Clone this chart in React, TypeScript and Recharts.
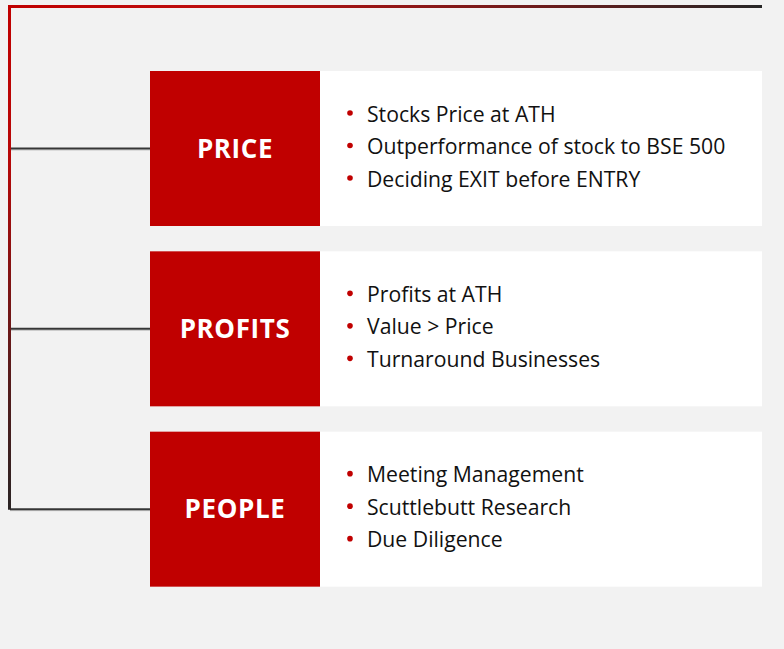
import React from 'react';
import { ComposedChart, Bar, XAxis, YAxis, ReferenceLine } from 'recharts';

// ---- data ----
const categories = ['PRICE', 'PROFITS', 'PEOPLE'];
const priceItems = ['Stocks Price at ATH', 'Outperformance of stock to BSE 500', 'Deciding EXIT before ENTRY'];
const profitsItems = ['Profits at ATH', 'Value > Price', 'Turnaround Businesses'];
const peopleItems = ['Meeting Management', 'Scuttlebutt Research', 'Due Diligence'];
const bulletLists = [priceItems, profitsItems, peopleItems];

// ---- layout (not data) ----
const W = 784;
const H = 649;
const OFFSET_W = 150;
const LABEL_W = 170;
const BODY_W = 442;
const RED = '#c00000';
const BG = '#f2f2f2';
const FONT = '"Open Sans", "Noto Sans", sans-serif';

const table = categories.map((name) => ({
  name,
  offset: OFFSET_W,
  label: LABEL_W,
  body: BODY_W,
}));

const ConnectorShape = (p: any) => {
  const cy = p.y + p.height / 2;
  return (
    <g>
      <line x1={p.x + 10} x2={p.x + p.width} y1={cy + 1.5} y2={cy + 1.5} stroke="#c4c4c4" strokeWidth={1} />
      <line x1={p.x + 10} x2={p.x + p.width} y1={cy} y2={cy} stroke="#363636" strokeWidth={2} />
    </g>
  );
};

const LabelShape = (p: any) => {
  const cy = p.y + p.height / 2;
  const name = categories[p.index] ?? p.payload?.name;
  return (
    <g>
      <rect x={p.x} y={p.y} width={p.width} height={p.height} fill={RED} />
      <text
        x={p.x + p.width / 2}
        y={cy + 9}
        textAnchor="middle"
        fill="#ffffff"
        fontFamily={FONT}
        fontWeight={700}
        fontSize={26}
        letterSpacing={0.6}
      >
        {name}
      </text>
    </g>
  );
};

const BodyShape = (p: any) => {
  const cy = p.y + p.height / 2;
  const items = bulletLists[p.index] || [];
  const baselines = [-27, 5.5, 38];
  return (
    <g>
      <rect x={p.x} y={p.y} width={p.width} height={p.height} fill="#ffffff" />
      {items.map((t: string, i: number) => (
        <g key={i}>
          <circle cx={p.x + 30} cy={cy + baselines[i] - 8.5} r={2.8} fill={RED} />
          <text
            x={p.x + 47}
            y={cy + baselines[i]}
            fill="#111111"
            fontFamily={FONT}
            fontSize={21.2}
          >
            {t}
          </text>
        </g>
      ))}
    </g>
  );
};

const FrameShape = (p: any) => {
  const x = p.x1;
  const yEnd = p.y2 + 1;
  return (
    <g>
      <path d={`M${x},5 L${x},${yEnd}`} stroke="url(#vGrad)" strokeWidth={3} fill="none" />
      <path d={`M${x - 1.5},6.5 L762,6.5`} stroke="url(#hGrad)" strokeWidth={3} fill="none" />
    </g>
  );
};

export default function App() {
  return (
    <div style={{ position: 'absolute', left: 0, top: 0, width: W, height: H, background: BG }}>
      <ComposedChart
        width={W}
        height={H}
        data={table}
        layout="vertical"
        margin={{ top: 58, bottom: 50, left: 0, right: 0 }}
        style={{ background: BG }}
      >
        <defs>
          <linearGradient id="vGrad" gradientUnits="userSpaceOnUse" x1="0" y1="5" x2="0" y2="510">
            <stop offset="0" stopColor="#c00000" />
            <stop offset="0.3" stopColor="#b80808" />
            <stop offset="0.7" stopColor="#5e1a1a" />
            <stop offset="1" stopColor="#2a2424" />
          </linearGradient>
          <linearGradient id="hGrad" gradientUnits="userSpaceOnUse" x1="8" y1="0" x2="762" y2="0">
            <stop offset="0" stopColor="#c00000" />
            <stop offset="0.3" stopColor="#bd0f0f" />
            <stop offset="0.72" stopColor="#6a1c1c" />
            <stop offset="1" stopColor="#262626" />
          </linearGradient>
        </defs>
        <XAxis type="number" domain={[0, W]} hide allowDataOverflow />
        <YAxis type="category" dataKey="name" hide />
        <Bar dataKey="offset" stackId="a" barSize={155} fill="transparent" shape={ConnectorShape} isAnimationActive={false} />
        <Bar dataKey="label" stackId="a" barSize={155} fill={RED} shape={LabelShape} isAnimationActive={false} />
        <Bar dataKey="body" stackId="a" barSize={155} fill="#ffffff" shape={BodyShape} isAnimationActive={false} />
        <ReferenceLine
          segment={[{ x: 9.5, y: 'PRICE' }, { x: 9.5, y: 'PEOPLE' }]}
          ifOverflow="visible"
          shape={FrameShape}
        />
      </ComposedChart>
    </div>
  );
}
